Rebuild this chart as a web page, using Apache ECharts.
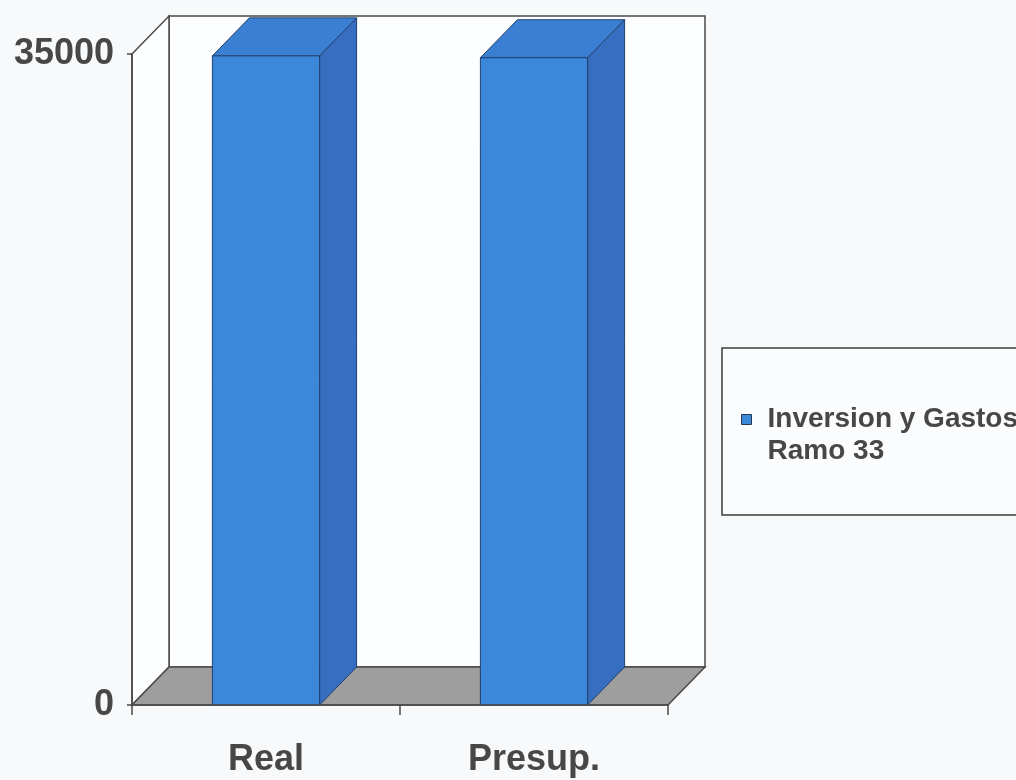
<!DOCTYPE html>
<html>
<head>
<meta charset="utf-8">
<script src="https://cdn.jsdelivr.net/npm/echarts@6/dist/echarts.min.js"></script>
<style>
  html, body { margin: 0; padding: 0; background: #f7f9fb; }
  #chart { width: 1016px; height: 780px; }
</style>
</head>
<body>
<div id="chart"></div>
<script>
// ---- data ----
const categories = ['Real', 'Presup.'];
const seriesName = 'Inversion y Gastos Ramo 33';
const legendLines = ['Inversion y Gastos', 'Ramo 33'];
const values = [34900, 34800];
const yMin = 0;
const yMax = 35000;
const yInterval = 35000;

// ---- style constants ----
const FONT = "'Liberation Sans', Arial, sans-serif";
const DX = 37, DY = -38;           // pseudo-3D depth offset
const TEXT = '#474747';
const EDGE = '#4a4a4a';

const chart = echarts.init(document.getElementById('chart'), null, { renderer: 'canvas' });

function renderFrame(params, api) {
  const cs = params.coordSys;
  const x0 = cs.x, x1 = cs.x + cs.width;
  const yT = cs.y, yB = cs.y + cs.height;
  const lineStyle = { stroke: EDGE, lineWidth: 1.5 };
  return {
    type: 'group',
    children: [
      { // back wall
        type: 'polygon',
        shape: { points: [[x0 + DX, yT + DY], [x1 + DX, yT + DY], [x1 + DX, yB + DY], [x0 + DX, yB + DY]] },
        style: Object.assign({ fill: '#fdfeff' }, lineStyle)
      },
      { // left side wall
        type: 'polygon',
        shape: { points: [[x0, yT], [x0 + DX, yT + DY], [x0 + DX, yB + DY], [x0, yB]] },
        style: Object.assign({ fill: '#fdfeff' }, lineStyle)
      },
      { // floor
        type: 'polygon',
        shape: { points: [[x0, yB], [x1, yB], [x1 + DX, yB + DY], [x0 + DX, yB + DY]] },
        style: Object.assign({ fill: '#9e9e9e' }, lineStyle)
      }
    ]
  };
}

function renderBar(params, api) {
  const idx = api.value(0);
  const top = api.coord([idx, api.value(1)]);
  const base = api.coord([idx, 0]);
  const band = api.size([1, 0])[0];
  const w = band * 0.4;
  const xl = top[0] - w / 2, xr = top[0] + w / 2;
  const yt = top[1], yb = base[1];
  const edge = { stroke: '#22406e', lineWidth: 1 };
  return {
    type: 'group',
    children: [
      { // side face
        type: 'polygon',
        shape: { points: [[xr, yt], [xr + DX, yt + DY], [xr + DX, yb + DY], [xr, yb]] },
        style: Object.assign({ fill: '#386ebf' }, edge)
      },
      { // top face
        type: 'polygon',
        shape: { points: [[xl, yt], [xr, yt], [xr + DX, yt + DY], [xl + DX, yt + DY]] },
        style: Object.assign({ fill: '#3b7fd3' }, edge)
      },
      { // front face
        type: 'rect',
        shape: { x: xl, y: yt, width: w, height: yb - yt },
        style: Object.assign({ fill: '#3b87da' }, edge)
      }
    ]
  };
}

const option = {
  backgroundColor: '#f7f9fb',
  animation: false,
  grid: { left: 132, right: 348, top: 54, bottom: 75, containLabel: false, outerBoundsMode: 'none' },
  legend: {
    data: [seriesName],
    orient: 'vertical',
    left: 722,
    top: 348,
    padding: [22, 40, 46, 19],
    backgroundColor: '#fbfcfd',
    borderColor: '#3c3c3c',
    borderWidth: 1.5,
    itemWidth: 10,
    itemHeight: 10,
    icon: 'rect',
    itemStyle: { color: '#3b87da', borderColor: '#2a3550', borderWidth: 1 },
    formatter: function () { return '\n' + legendLines.join('\n'); },
    textStyle: {
      fontFamily: FONT, fontWeight: 'bold', fontSize: 28, color: TEXT,
      lineHeight: 32, padding: [3, 0, 0, 11]
    }
  },
  xAxis: {
    type: 'category',
    data: categories,
    z: 10,
    axisLine: { show: true, lineStyle: { color: EDGE, width: 1.5 } },
    axisTick: { show: true, length: 10, lineStyle: { color: EDGE, width: 1.5 } },
    axisLabel: { fontFamily: FONT, fontWeight: 'bold', fontSize: 36, color: TEXT, margin: 37 },
    splitLine: { show: false }
  },
  yAxis: {
    type: 'value',
    min: yMin,
    max: yMax,
    interval: yInterval,
    z: 10,
    axisLine: { show: true, lineStyle: { color: EDGE, width: 1.5 } },
    axisTick: { show: true, length: 5, lineStyle: { color: EDGE, width: 1.5 } },
    axisLabel: {
      fontFamily: FONT, fontWeight: 'bold', fontSize: 36, color: TEXT, margin: 18,
      formatter: function (v) { return String(v); }
    },
    splitLine: { show: false }
  },
  series: [
    {
      name: 'frame',
      type: 'custom',
      renderItem: renderFrame,
      data: [[0, 0]],
      z: 1,
      silent: true,
      clip: false
    },
    {
      name: seriesName,
      type: 'custom',
      renderItem: renderBar,
      itemStyle: { color: '#3b87da' },
      data: values.map((v, i) => [i, v]),
      encode: { x: 0, y: 1 },
      z: 2,
      clip: false
    }
  ]
};

chart.setOption(option);
</script>
</body>
</html>
